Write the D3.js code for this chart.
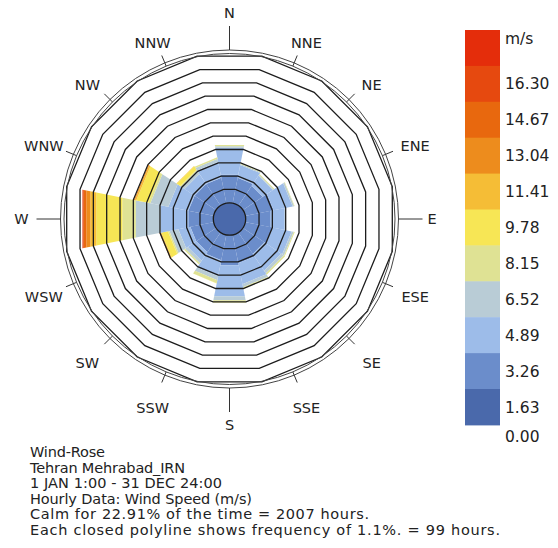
<!DOCTYPE html>
<html>
<head>
<meta charset="utf-8">
<script src="https://cdn.jsdelivr.net/npm/d3@7/dist/d3.min.js"></script>
<style>
	body { margin: 0; background: #fff; }
	text { font-family: "DejaVu Sans", Verdana, sans-serif; fill: #222; }
</style>
</head>
<body>
<svg width="558" height="548"></svg>
<script>
var directions = ["N", "NNE", "NE", "ENE", "E", "ESE", "SE", "SSE", "S", "SSW", "SW", "WSW", "W", "WNW", "NW", "NNW"];

// legend: speed class bounds (m/s) and colours, lowest first
var speedTicks = ["0.00", "1.63", "3.26", "4.89", "6.52", "8.15", "9.78", "11.41", "13.04", "14.67", "16.30"];
var speedColors = ["#4a69ab", "#6b8dcb", "#9dbce9", "#b9ccd6", "#dfe294", "#f7e655", "#f5bd36", "#ed8c1d", "#e8680e", "#e6490f", "#e42d0b"];

// frequency (% of hours) per direction, one array per speed class above calm
var freq163 = [2.31, 2.06, 1.90, 2.31, 2.06, 2.23, 2.06, 2.31, 2.48, 2.06, 1.90, 1.90, 2.06, 2.06, 2.06, 2.06];
var freq326 = [2.23, 1.07, 0.99, 1.57, 1.16, 1.57, 1.65, 1.73, 2.56, 1.32, 0.83, 0.99, 2.27, 1.65, 0.99, 1.32];
var freq489 = [0.12, 0.08, 0.08, 0.12, 0.08, 0.17, 0.25, 0.25, 0.33, 0.33, 0.25, 0.74, 2.06, 1.49, 0.33, 0.25];
var freq652 = [0.12, 0.08, 0.08, 0.04, 0.02, 0.08, 0.12, 0.12, 0.17, 0.25, 0.12, 0.12, 1.11, 0.17, 0.08, 0.12];
var freq815 = [0, 0, 0, 0, 0, 0, 0, 0, 0.02, 0.02, 0, 0.54, 2.15, 0.99, 0.33, 0];
var freq978 = [0, 0, 0, 0, 0, 0, 0, 0, 0, 0, 0, 0.08, 0.50, 0.12, 0.04, 0];
var freq1141 = [0, 0, 0, 0, 0, 0, 0, 0, 0, 0, 0, 0.07, 0.33, 0.08, 0, 0];
var freq1304 = [0, 0, 0, 0, 0, 0, 0, 0, 0, 0, 0, 0, 0.21, 0, 0, 0];
var freq1467 = [0, 0, 0, 0, 0, 0, 0, 0, 0, 0, 0, 0, 0.10, 0, 0, 0];
var freq1630 = [0, 0, 0, 0, 0, 0, 0, 0, 0, 0, 0, 0, 0.02, 0, 0, 0];

var ringStep = 1.1; // each closed polyline = 1.1 %
var ringCount = 12;

var infoLines = [
	"Wind-Rose",
	"Tehran Mehrabad_IRN",
	"1 JAN 1:00 - 31 DEC 24:00",
	"Hourly Data: Wind Speed (m/s)",
	"Calm for 22.91% of the time = 2007 hours.",
	"Each closed polyline shows frequency of 1.1%. = 99 hours."
];
// widths the lines take up in the original print
var infoWidths = [75, 155, 192, 222, 339, 470];

var svg = d3.select("svg"),
	cx = 229.5,
	cy = 219,
	outerR = 169,
	half = Math.PI / 16;

var rScale = d3.scaleLinear()
	.domain([0, ringStep * (ringCount - 1)])
	.range([16.2, 162.8]);

var angleScale = d3.scaleLinear()
	.domain([0, directions.length])
	.range([0, 2 * Math.PI]);

// point on a 16-gon with given apothem, flat face centred on each direction
function polyPoint(r, a) {
	var R = r / Math.cos(half);
	return [R * Math.sin(a), -R * Math.cos(a)];
}

var rose = svg.append("g").attr("transform", "translate(" + cx + "," + cy + ")");

// stacked bars
var series = [freq163, freq326, freq489, freq652, freq815, freq978, freq1141, freq1304, freq1467, freq1630];
var segments = [];
directions.forEach(function(dir, i) {
	var acc = 0;
	series.forEach(function(s, j) {
		if (s[i] > 0) {
			segments.push({ dir: i, f0: acc, f1: acc + s[i], color: speedColors[j + 1] });
		}
		acc += s[i];
	});
});

rose.selectAll(".seg")
	.data(segments).enter().append("path")
	.attr("class", "seg")
	.attr("fill", function(d) { return d.color; })
	.attr("d", function(d) {
		var a = angleScale(d.dir),
			r0 = d.f0 === 0 ? 0 : rScale(d.f0),
			r1 = rScale(d.f1);
		var pts = [polyPoint(r1, a - half), polyPoint(r1, a + half), polyPoint(r0, a + half), polyPoint(r0, a - half)];
		return "M" + pts.join("L") + "Z";
	});

// calm disk
rose.append("circle")
	.attr("r", rScale(0))
	.attr("fill", speedColors[0])
	.attr("stroke", "#1c1c1c")
	.attr("stroke-width", 1.3);

// closed polylines
var line = d3.line().curve(d3.curveLinearClosed);
rose.selectAll(".ring")
	.data(d3.range(1, ringCount).map(function(k) { return k * ringStep; }))
	.enter().append("path")
	.attr("class", "ring")
	.attr("fill", "none")
	.attr("stroke", "#1c1c1c")
	.attr("stroke-width", 1.3)
	.attr("d", function(f) {
		return line(directions.map(function(dir, i) { return polyPoint(rScale(f), angleScale(i) - half); }));
	});

// outer double circle
[outerR - 3.5, outerR].forEach(function(r) {
	rose.append("circle")
		.attr("r", r)
		.attr("fill", "none")
		.attr("stroke", "#444")
		.attr("stroke-width", 1);
});

// ticks and direction labels
directions.forEach(function(dir, i) {
	var a = angleScale(i),
		s = Math.sin(a),
		c = -Math.cos(a),
		cardinal = i % 4 === 0,
		t0 = cardinal ? outerR : outerR - 3.5,
		t1 = cardinal ? outerR + 24 : outerR + 8;
	rose.append("line")
		.attr("x1", t0 * s).attr("y1", t0 * c)
		.attr("x2", t1 * s).attr("y2", t1 * c)
		.attr("stroke", "#333")
		.attr("stroke-width", 1);

	var label = rose.append("text")
		.style("font-size", "14.5px")
		.text(dir);
	if (dir === "N") {
		label.attr("x", 0).attr("y", -201).attr("text-anchor", "middle");
	} else if (dir === "S") {
		label.attr("x", 0).attr("y", 211).attr("text-anchor", "middle");
	} else if (dir === "E") {
		label.attr("x", 198).attr("y", 5).attr("text-anchor", "start");
	} else if (dir === "W") {
		label.attr("x", -201).attr("y", 5).attr("text-anchor", "end");
	} else {
		label.attr("x", 201 * s)
			.attr("y", c * (c < 0 ? 190.5 : 204))
			.attr("dy", "0.36em")
			.attr("text-anchor", "middle");
	}
});

// legend
var legendTop = 30,
	cellH = 35.9,
	legendX = 465,
	legendW = 35;
var legendColors = speedColors.slice().reverse();

svg.selectAll(".cell")
	.data(legendColors).enter().append("rect")
	.attr("class", "cell")
	.attr("x", legendX)
	.attr("y", function(d, i) { return legendTop + i * cellH; })
	.attr("width", legendW)
	.attr("height", cellH + 0.5)
	.attr("fill", function(d) { return d; });

svg.append("text")
	.attr("x", legendX + 40)
	.attr("y", legendTop + 8)
	.attr("dy", "0.36em")
	.style("font-size", "15.5px")
	.text("m/s");

var legendLabels = speedTicks.slice(1).reverse();
svg.selectAll(".legendLabel")
	.data(legendLabels).enter().append("text")
	.attr("class", "legendLabel")
	.attr("x", legendX + 40)
	.attr("y", function(d, i) { return legendTop + (i + 1.5) * cellH; })
	.attr("dy", "0.36em")
	.style("font-size", "15.5px")
	.text(function(d) { return d; });

svg.append("text")
	.attr("x", legendX + 40)
	.attr("y", legendTop + 11 * cellH + 12)
	.attr("dy", "0.36em")
	.style("font-size", "15.5px")
	.text(speedTicks[0]);

// info text
svg.selectAll(".info")
	.data(infoLines).enter().append("text")
	.attr("class", "info")
	.attr("x", 30)
	.attr("y", function(d, i) { return 457 + i * 15.6; })
	.attr("textLength", function(d, i) { return infoWidths[i]; })
	.attr("lengthAdjust", "spacing")
	.style("font-size", "14.5px")
	.text(function(d) { return d; });
</script>
</body>
</html>
